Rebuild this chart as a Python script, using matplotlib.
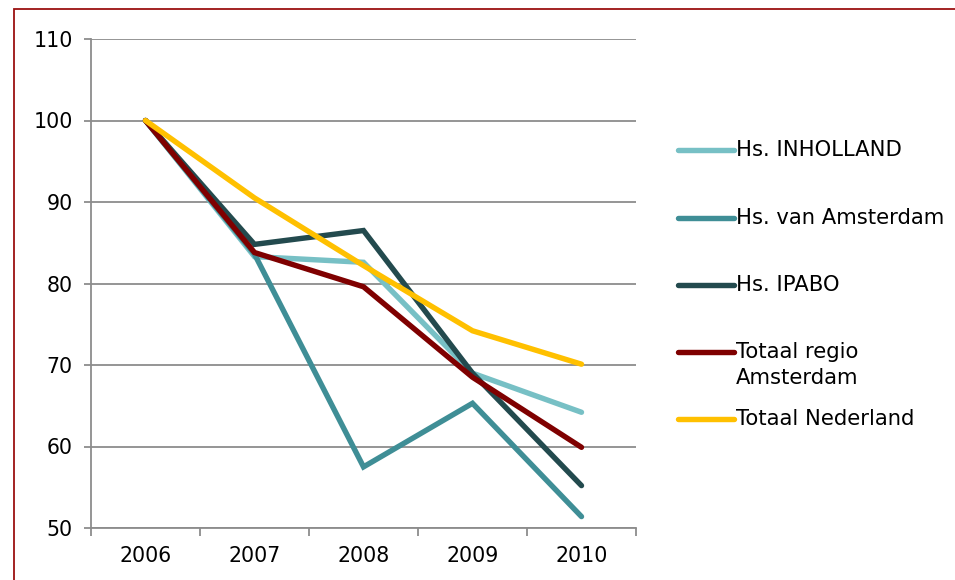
import matplotlib.pyplot as plt
from matplotlib.lines import Line2D
from matplotlib.patches import Rectangle

years = ["2006", "2007", "2008", "2009", "2010"]
inholland = [100, 83.3, 82.6, 69.0, 64.2]
hva = [100, 83.6, 57.5, 65.3, 51.4]
ipabo = [100, 84.8, 86.5, 69.0, 55.2]
regio = [100, 83.8, 79.6, 68.5, 59.9]
nederland = [100, 90.5, 82.2, 74.2, 70.1]

names = ["Hs. INHOLLAND", "Hs. van Amsterdam", "Hs. IPABO",
         "Totaal regio\nAmsterdam", "Totaal Nederland"]
colors = ["#77c0c5", "#3f8e96", "#234a4e", "#7f0000", "#ffc000"]
series = [inholland, hva, ipabo, regio, nederland]

W, H = 955, 580
FS = 14.8
fig = plt.figure(figsize=(W / 100, H / 100), dpi=100)
ax = fig.add_axes([91 / W, 1 - 528 / H, (636 - 91) / W, (528 - 39) / H])

x = list(range(len(years)))
for vals, c in zip(series, colors):
    ax.plot(x, vals, color=c, lw=3.9, solid_capstyle="round",
            solid_joinstyle="miter", zorder=3)

grid_c = "#8c8c8c"
ax.set_ylim(50, 110)
ax.set_yticks(range(50, 111, 10))
ax.set_xlim(-0.5, len(years) - 0.5)
ax.set_xticks([i - 0.5 for i in range(len(years) + 1)])
ax.set_xticklabels([])
ax.set_xticks(x, minor=True)
ax.set_xticklabels(years, minor=True)
ax.tick_params(axis="x", which="major", length=6, width=1.3, color=grid_c, direction="out")
ax.tick_params(axis="x", which="minor", length=0, pad=13, labelsize=FS)
ax.tick_params(axis="y", length=5, width=1.3, color=grid_c, pad=8, labelsize=FS)
ax.yaxis.grid(True, color=grid_c, lw=1.3)
ax.set_axisbelow(True)
for s in ["top", "right"]:
    ax.spines[s].set_visible(False)
for s in ["left", "bottom"]:
    ax.spines[s].set_color(grid_c)
    ax.spines[s].set_linewidth(1.3)

# legend drawn by hand to keep the handle on the first text line
leg_y = [150, 218, 285, 352, 419]
for name, c, yy in zip(names, colors, leg_y):
    fy = 1 - yy / H
    fig.add_artist(Line2D([678 / W, 734 / W], [fy, fy], color=c, lw=3.9,
                          solid_capstyle="round"))
    fig.text(736 / W, 1 - (yy - 10) / H, name, fontsize=15.2, va="top",
             ha="left", linespacing=1.4)

fig.add_artist(Rectangle((14 / W, -0.02), 1.0, 1.02 - 9 / H,
                         transform=fig.transFigure, fill=False,
                         edgecolor="#9b1111", lw=1.3))

fig.savefig("out.png", dpi=100)
